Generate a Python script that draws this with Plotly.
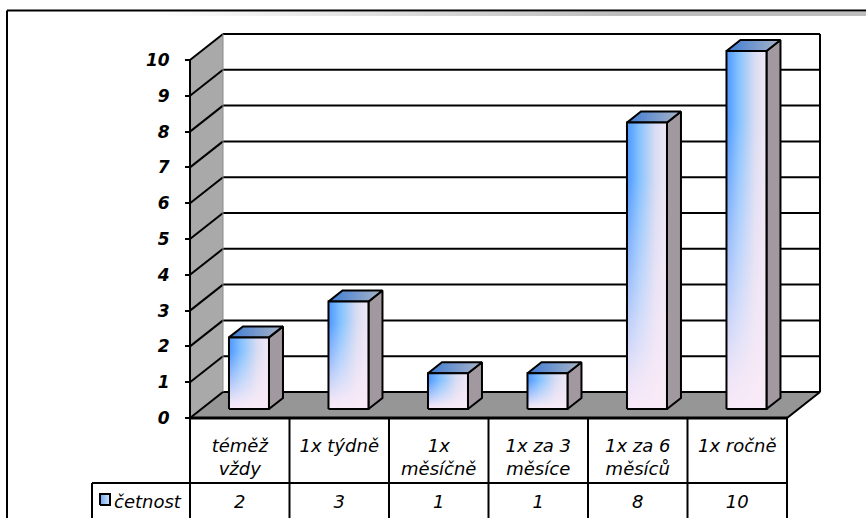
import plotly.graph_objects as go

# ---- data -------------------------------------------------------------
categories = ["téměž<br>vždy", "1x týdně", "1x<br>měsíčně",
              "1x za 3<br>měsíce", "1x za 6<br>měsíců", "1x ročně"]
counts = [2, 3, 1, 1, 8, 10]
series_name = "četnost"
y_ticks = list(range(0, 11))

# ---- geometry of the 3-D box (pixels of the 866x518 page) --------------
W, H = 866, 518
X_FRONT_L, X_FRONT_R = 190, 787      # front edge of the floor
Y_ZERO, Y_TOP = 418, 60              # value 0 / value 10 on the front plane
DEPTH_PX = (33, -26)                 # shift from the front plane to the back wall

CAT_PX = (X_FRONT_R - X_FRONT_L) / len(categories)
VAL_PX = (Y_ZERO - Y_TOP) / max(y_ticks)
DX = DEPTH_PX[0] / CAT_PX
DY = -DEPTH_PX[1] / VAL_PX

BAR_L, BAR_R = 0.277, 0.679          # bar span inside a category
D_FRONT, D_BACK = 0.346, 0.77        # bar depth span (0 = front, 1 = back)

TEXT_FONT = dict(family="DejaVu Sans", size=18, style="italic", color="black")


def px_x(p):
    return (p - X_FRONT_L) / CAT_PX


def px_y(p):
    return (Y_ZERO - p) / VAL_PX


def P(x, v, d):
    """front-plane (category, value) point pushed back to depth d"""
    return (x + d * DX, v + d * DY)


fig = go.Figure()


def poly(pts, fill=None, grad=None, line_w=0, line_c="black", closed=True):
    xs = [p[0] for p in pts]
    ys = [p[1] for p in pts]
    if closed:
        xs.append(pts[0][0])
        ys.append(pts[0][1])
    kw = dict(x=xs, y=ys, mode="lines", hoverinfo="skip", showlegend=False,
              line=dict(width=line_w, color=line_c))
    if fill is not None or grad is not None:
        kw["fill"] = "toself"
        if grad is not None:
            kw["fillgradient"] = grad
            kw["fillcolor"] = "rgba(0,0,0,0)"
        else:
            kw["fillcolor"] = fill
    fig.add_trace(go.Scatter(**kw))


def lines(segs, width=2, color="black"):
    xs, ys = [], []
    for a, b in segs:
        xs += [a[0], b[0], None]
        ys += [a[1], b[1], None]
    fig.add_trace(go.Scatter(x=xs, y=ys, mode="lines", hoverinfo="skip",
                             showlegend=False,
                             line=dict(width=width, color=color)))


n = len(categories)
vmax = max(y_ticks)

# ---- walls and floor ---------------------------------------------------
# back wall
poly([P(0, 0, 1), P(n, 0, 1), P(n, vmax, 1), P(0, vmax, 1)], fill="white")
# side wall
poly([P(0, 0, 0), P(0, vmax, 0), P(0, vmax, 1), P(0, 0, 1)], fill="#a9a9a9")
# floor
poly([P(0, 0, 0), P(n, 0, 0), P(n, 0, 1), P(0, 0, 1)], fill="#969696",
     line_w=2)

grid = []
for v in y_ticks[1:]:
    grid.append((P(0, v, 0), P(0, v, 1)))
    grid.append((P(0, v, 1), P(n, v, 1)))
grid.append((P(n, 0, 1), P(n, vmax, 1)))
grid.append((P(0, 0, 0), P(0, vmax, 0)))
lines(grid, width=2)
lines([(P(0, 0, 1), P(0, vmax, 1))], width=1, color="#8a8a8a")

# ---- 3-D columns -------------------------------------------------------
front_grad = dict(type="horizontal",
                  colorscale=[[0, "#4d96ff"], [0.3, "#84c2ff"],
                              [0.7, "#d8dcf2"], [1, "#f2e8f7"]])
pink_fade = dict(type="vertical",
                 colorscale=[[0, "rgba(249,234,247,1)"],
                             [0.1, "rgba(249,234,247,0.92)"],
                             [0.45, "rgba(249,234,247,0.45)"],
                             [0.8, "rgba(249,234,247,0)"],
                             [1, "rgba(249,234,247,0)"]])
top_grad = dict(type="horizontal",
                colorscale=[[0, "#3d7bd4"], [1, "#aab4c6"]])

for i, v in enumerate(counts):
    xl, xr = i + BAR_L, i + BAR_R
    front = [P(xl, 0, D_FRONT), P(xr, 0, D_FRONT),
             P(xr, v, D_FRONT), P(xl, v, D_FRONT)]
    side = [P(xr, 0, D_FRONT), P(xr, 0, D_BACK),
            P(xr, v, D_BACK), P(xr, v, D_FRONT)]
    top = [P(xl, v, D_FRONT), P(xr, v, D_FRONT),
           P(xr, v, D_BACK), P(xl, v, D_BACK)]
    poly(side, fill="#a2989f", line_w=2)
    poly(top, grad=top_grad)
    poly(top, line_w=2)
    poly(front, grad=front_grad)
    poly(front, grad=pink_fade)
    poly(front, line_w=2)

# ---- data table --------------------------------------------------------
row_split = px_y(483)
bottom = px_y(H + 4)
legend_left = px_x(92)
table = [((k, 0), (k, bottom)) for k in range(n + 1)]
table.append(((legend_left, row_split), (n, row_split)))
table.append(((legend_left, row_split), (legend_left, bottom)))
lines(table, width=2)
lines([((0, 0), (n, 0))], width=3)

fig.add_trace(go.Scatter(
    x=[i + 0.5 for i in range(n)], y=[px_y(503)] * n,
    text=[str(c) for c in counts], mode="text", hoverinfo="skip",
    showlegend=False, textfont=TEXT_FONT))

# legend key inside the table
poly([(px_x(100), px_y(505)), (px_x(110), px_y(505)),
      (px_x(110), px_y(494)), (px_x(100), px_y(494))],
     grad=dict(type="horizontal",
               colorscale=[[0, "#6aaaf5"], [1, "#d8e4f6"]]), line_w=2)
fig.add_annotation(x=px_x(112), y=px_y(501), xref="x", yref="y",
                   text=series_name, showarrow=False, xanchor="left",
                   yanchor="middle", font=TEXT_FONT)

# ---- chart frame -------------------------------------------------------
poly([(px_x(150), px_y(12)), (px_x(W), px_y(12)),
      (px_x(W), px_y(16)), (px_x(150), px_y(16))],
     grad=dict(type="horizontal", start=px_x(150), stop=px_x(620),
               colorscale=[[0, "rgba(190,190,190,0)"], [1, "#bdbdbd"]]))
lines([((px_x(7), px_y(H + 4)), (px_x(7), px_y(10.5))),
       ((px_x(7), px_y(10.5)), (px_x(W + 4), px_y(10.5)))], width=2)

# ---- axes --------------------------------------------------------------
fig.update_layout(
    width=W, height=H,
    margin=dict(l=0, r=0, t=0, b=0),
    paper_bgcolor="white", plot_bgcolor="white",
    showlegend=False,
    xaxis=dict(range=[px_x(0), px_x(W)], showgrid=False, zeroline=False,
               showline=False, anchor="free", position=(H - Y_ZERO) / H,
               tickmode="array", tickvals=[i + 0.5 for i in range(n)],
               ticktext=categories, ticks="", ticklabelstandoff=15,
               tickfont=TEXT_FONT),
    yaxis=dict(range=[px_y(H), px_y(0)], showgrid=False, zeroline=False,
               showline=False, anchor="free", position=X_FRONT_L / W,
               side="left", tickmode="array", tickvals=y_ticks,
               ticks="outside", ticklen=5, tickwidth=2, tickcolor="black",
               ticklabelstandoff=12,
               tickfont=dict(family="DejaVu Sans", size=17, weight="bold",
                             style="italic", color="black")),
)

fig.write_html("out.html")
